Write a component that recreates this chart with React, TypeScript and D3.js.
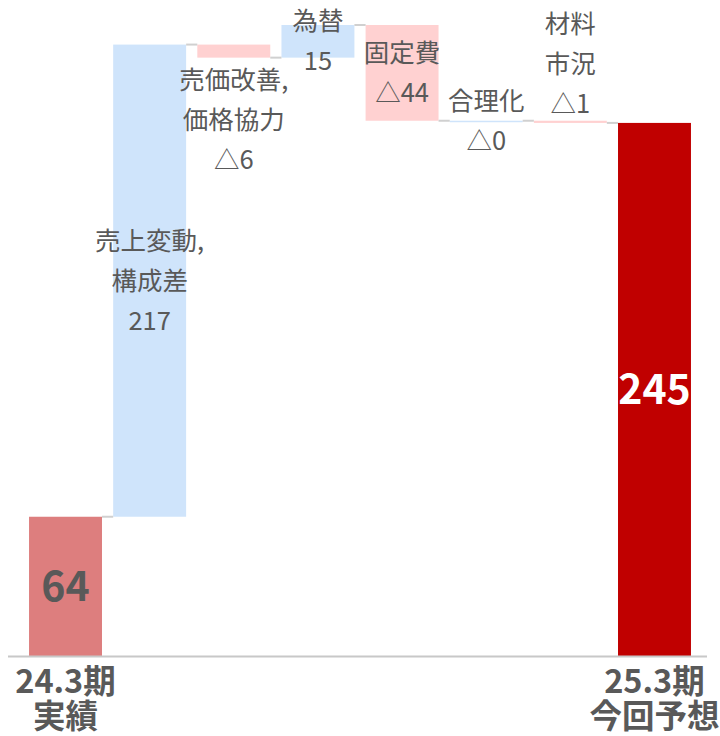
import * as d3 from "d3";
import React from "react";

const categories = ["24.3期", "sales", "price", "fx", "fixed", "rational", "material", "25.3期"];
const values = [64, 217, -6, 15, -44, 0, -1, 245];
const labelLines = [
  [],
  ["売上変動,", "構成差", "217"],
  ["売価改善,", "価格協力", "△6"],
  ["為替", "15"],
  ["固定費", "△44"],
  ["合理化", "△0"],
  ["材料", "市況", "△1"],
  [],
];
const labelPlacement = ["", "center", "below", "center", "center", "center", "above", ""];
const axisLabels = [["24.3期", "実績"], [], [], [], [], [], [], ["25.3期", "今回予想"]];

const W = 720;
const H = 736;
const FONT = "'Noto Sans CJK JP', 'Noto Sans', sans-serif";
const GREY = "#595959";

const App: React.FC = () => {
  const x = d3.scaleBand<number>()
    .domain(d3.range(categories.length))
    .range([8, 712])
    .paddingInner(0.133)
    .paddingOuter(0.25);
  const y = d3.scaleLinear().domain([0, 290]).range([656, 25]);

  // running totals for the floating bars
  let run = 0;
  const bars = values.map((v, i) => {
    const total = i === 0 || i === values.length - 1;
    const start = total ? 0 : run;
    const end = total ? v : run + v;
    run = total ? v : end;
    return { i, v, start, end, total };
  });

  const fill = (b: typeof bars[number]) =>
    b.i === 0 ? "#dd7e7e" : b.total ? "#c00000" : b.v >= 0 ? "#cfe4fb" : "#ffd1d1";

  const lh = 40;

  return (
    <svg width={W} height={H} style={{ position: "absolute", left: 0, top: 0 }}>
      {bars.map((b) => {
        const top = y(Math.max(b.start, b.end));
        const bot = y(Math.min(b.start, b.end));
        return (
          <rect
            key={b.i}
            x={x(b.i)}
            y={top}
            width={x.bandwidth()}
            height={Math.max(bot - top, 1.5)}
            fill={fill(b)}
          />
        );
      })}
      {bars.slice(0, -1).map((b) => (
        <line
          key={"c" + b.i}
          x1={x(b.i)! + x.bandwidth()}
          x2={x(b.i + 1)!}
          y1={y(b.end)}
          y2={y(b.end)}
          stroke="#d0d0d0"
          strokeWidth={2}
        />
      ))}
      <line x1={8} x2={707} y1={656.5} y2={656.5} stroke="#c8c8c8" strokeWidth={2} />
      {bars.map((b) => {
        const lines = labelLines[b.i];
        if (!lines.length) return null;
        const cx = x(b.i)! + x.bandwidth() / 2;
        const top = y(Math.max(b.start, b.end));
        const bot = y(Math.min(b.start, b.end));
        const n = lines.length;
        const pos = labelPlacement[b.i];
        const centerY = (k: number) =>
          pos === "below"
            ? bot + 22 + k * lh
            : pos === "above"
            ? top - 17 - (n - 1 - k) * lh
            : (top + bot) / 2 + (k - (n - 1) / 2) * lh;
        return (
          <g key={"l" + b.i}>
            {lines.map((t, k) => (
              <text
                key={k}
                x={cx}
                y={centerY(k)}
                dy="0.35em"
                textAnchor="middle"
                fontFamily={FONT}
                fontSize={25.5}
                fill={GREY}
              >
                {t}
              </text>
            ))}
          </g>
        );
      })}
      {bars.filter((b) => b.total).map((b) => (
        <text
          key={"t" + b.i}
          x={x(b.i)! + x.bandwidth() / 2}
          y={(y(b.v) + y(0)) / 2}
          dy="0.36em"
          textAnchor="middle"
          fontFamily={FONT}
          fontWeight="bold"
          fontSize={41}
          fill={b.i === 0 ? GREY : "#ffffff"}
        >
          {b.v}
        </text>
      ))}
      {axisLabels.map((ls, i) =>
        ls.length ? (
          <text
            key={"a" + i}
            textAnchor="middle"
            fontFamily={FONT}
            fontWeight="bold"
            fontSize={32.5}
            fill={GREY}
          >
            {ls.map((t, k) => (
              <tspan key={k} x={x(i)! + x.bandwidth() / 2} y={693 + k * 35}>
                {t}
              </tspan>
            ))}
          </text>
        ) : null
      )}
    </svg>
  );
};

export default App;
